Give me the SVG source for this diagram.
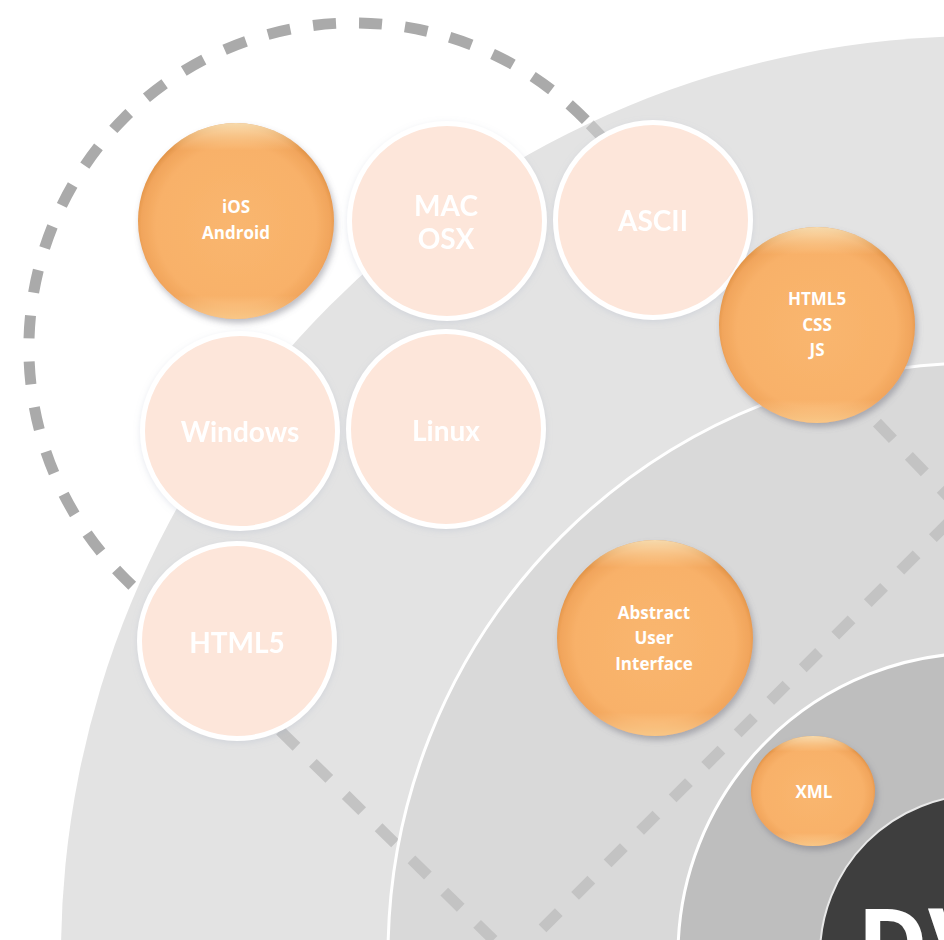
<svg xmlns="http://www.w3.org/2000/svg" width="944" height="940" viewBox="0 0 944 940">
<defs>
<style>
.pale{fill:#fde6da;stroke:#ffffff;stroke-width:5}
.plabel{font-family:Lato,"Liberation Sans",sans-serif;font-weight:700;font-size:28px;fill:#ffffff;text-anchor:middle}
.olabel{font-family:"Open Sans","Liberation Sans",sans-serif;font-weight:700;font-size:17px;fill:#ffffff;text-anchor:middle}
.orange{fill:url(#og);filter:url(#sh)}
.ohl{fill:url(#hl);pointer-events:none}
.dash{fill:none;stroke-width:11;stroke-dasharray:23 23}
.ringline{fill:none;stroke:#ffffff;stroke-width:3}
</style>
<radialGradient id="og" cx="50%" cy="52%" r="52%">
<stop offset="0" stop-color="#f9b66f"/>
<stop offset="0.78" stop-color="#f8b169"/>
<stop offset="0.93" stop-color="#f1a55c"/>
<stop offset="1" stop-color="#de9043"/>
</radialGradient>
<linearGradient id="hl" x1="0" y1="0" x2="0" y2="1">
<stop offset="0" stop-color="#fff3d0" stop-opacity="0.75"/>
<stop offset="0.14" stop-color="#ffe6b8" stop-opacity="0"/>
<stop offset="0.88" stop-color="#ffe0b0" stop-opacity="0"/>
<stop offset="1" stop-color="#ffe2a8" stop-opacity="0.55"/>
</linearGradient>
<filter id="sh" x="-20%" y="-20%" width="140%" height="140%">
<feDropShadow dx="2" dy="4" stdDeviation="3" flood-color="#6a6a78" flood-opacity="0.45"/>
</filter>
<filter id="psh" x="-20%" y="-20%" width="140%" height="140%">
<feDropShadow dx="0" dy="2" stdDeviation="3" flood-color="#9aa8c0" flood-opacity="0.25"/>
</filter>
<clipPath id="outerclip"><circle cx="980" cy="955" r="919"/></clipPath>
<path id="dpath" d="M585.8,120.2 A325,325 0 1 0 126.2,579.8 L512.5,958.5 L961,510 Z"/>
</defs>
<rect width="944" height="940" fill="#ffffff"/>
<g id="dashes-back">
<use href="#dpath" class="dash" stroke="#aaaaaa"/>
</g>
<g id="rings">
<circle cx="980" cy="955" r="919" fill="#e3e3e3"/>
<circle cx="980" cy="955" r="592" fill="#d9d9d9"/>
<circle cx="980" cy="955" r="302" fill="#bebebe"/>
<circle cx="980" cy="955" r="160" fill="#3e3e3e"/>
</g>
<g id="connectors">
<use href="#dpath" class="dash" stroke="#c3c3c3" clip-path="url(#outerclip)"/>
</g>
<g id="ringlines">
<circle class="ringline" cx="980" cy="955" r="592"/>
<circle class="ringline" cx="980" cy="955" r="302"/>
<circle cx="980" cy="955" r="160" fill="none" stroke="#e8e8e8" stroke-width="2"/>
</g>
<g id="core">
<text x="857" y="978" font-family="'Open Sans','Liberation Sans',sans-serif" font-weight="700" font-size="96" fill="#ffffff">DV</text>
</g>
<g id="node-mac" filter="url(#psh)">
<circle class="pale" cx="447" cy="221" r="97.5"/>
<text class="plabel" x="446" y="215.5">MAC</text>
<text class="plabel" x="446" y="248.5">OSX</text>
</g>
<g id="node-ascii" filter="url(#psh)">
<circle class="pale" cx="653" cy="220" r="97.5"/>
<text class="plabel" x="653" y="231">ASCII</text>
</g>
<g id="node-windows" filter="url(#psh)">
<circle class="pale" cx="240" cy="431" r="97.5"/>
<text class="plabel" x="240" y="442">Windows</text>
</g>
<g id="node-linux" filter="url(#psh)">
<circle class="pale" cx="446" cy="429" r="97.5"/>
<text class="plabel" x="446" y="441">Linux</text>
</g>
<g id="node-html5" filter="url(#psh)">
<circle class="pale" cx="237" cy="641" r="97.5"/>
<text class="plabel" x="237" y="653">HTML5</text>
</g>
<g id="node-ios">
<circle class="orange" cx="236" cy="221" r="98"/>
<circle class="ohl" cx="236" cy="221" r="98"/>
<text class="olabel" x="236" y="213">iOS</text>
<text class="olabel" x="236" y="239">Android</text>
</g>
<g id="node-web">
<circle class="orange" cx="817" cy="325" r="98"/>
<circle class="ohl" cx="817" cy="325" r="98"/>
<text class="olabel" x="817" y="305">HTML5</text>
<text class="olabel" x="817" y="330.5">CSS</text>
<text class="olabel" x="817" y="356">JS</text>
</g>
<g id="node-aui">
<circle class="orange" cx="655" cy="638" r="98"/>
<circle class="ohl" cx="655" cy="638" r="98"/>
<text class="olabel" x="654" y="619">Abstract</text>
<text class="olabel" x="654" y="644">User</text>
<text class="olabel" x="654" y="670">Interface</text>
</g>
<g id="node-xml">
<ellipse class="orange" cx="813" cy="791" rx="62" ry="55"/>
<ellipse class="ohl" cx="813" cy="791" rx="62" ry="55"/>
<text class="olabel" x="814" y="798">XML</text>
</g>
</svg>
